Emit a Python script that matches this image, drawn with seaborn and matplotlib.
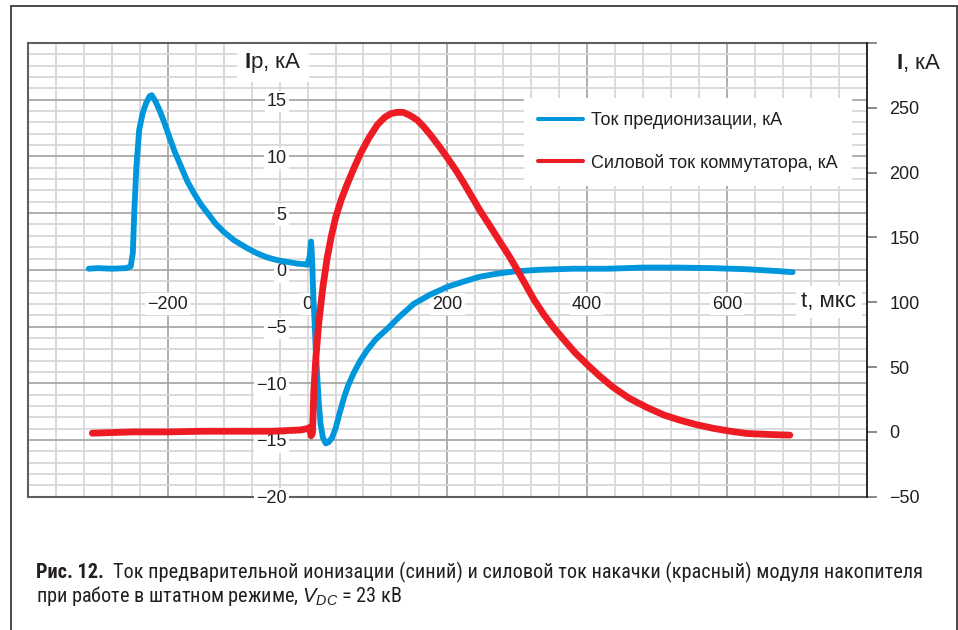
import matplotlib
matplotlib.use("Agg")
import matplotlib.pyplot as plt
import seaborn as sns
import pandas as pd
from matplotlib.ticker import MultipleLocator, FixedLocator
from matplotlib.patches import Rectangle
from matplotlib.lines import Line2D

# ---------------- data ----------------
blue_t = [-313, -300, -280, -260, -253, -250, -248, -245, -241, -236, -231, -226, -223,
          -218, -212, -205, -198, -190, -181, -172, -162, -153, -143, -132, -120, -105,
          -86, -72, -58, -43, -29, -15, -5, 0, 3, 5, 6.5, 8, 10, 12, 14, 16, 18.6, 22,
          26, 30, 35, 40, 46, 52, 58, 66, 75, 85, 98, 114, 132, 152, 175, 200, 225, 247,
          270, 294, 330, 380, 430, 480, 530, 580, 630, 670, 694]
blue_ip = [0.1, 0.15, 0.1, 0.15, 0.3, 1.5, 5.0, 9.0, 12.3, 13.8, 14.7, 15.3, 15.4,
           14.9, 14.1, 13.0, 11.75, 10.4, 9.1, 7.8, 6.7, 5.8, 5.0, 4.1, 3.35, 2.6,
           1.9, 1.45, 1.1, 0.85, 0.7, 0.55, 0.5, 0.45, 1.2, 2.5, 1.0, -2.0, -4.5, -7.5,
           -9.5, -11.7, -13.6, -14.8, -15.3, -15.2, -14.8, -14.0, -12.6, -11.3, -10.2,
           -9.1, -8.05, -7.1, -6.1, -5.2, -4.1, -3.0, -2.2, -1.5, -1.0, -0.6, -0.35,
           -0.15, 0.0, 0.1, 0.1, 0.2, 0.2, 0.15, 0.05, -0.1, -0.2]

red_t = [-308, -250, -200, -150, -100, -50, -10, 0, 3, 5, 7, 9, 12, 16, 22, 28, 34, 40,
         48, 57, 66, 76, 88, 100, 110, 119, 128, 137, 147, 157, 166, 176, 188, 200, 212,
         223, 235, 247, 262, 276, 288, 300, 312, 324, 338, 352, 366, 383, 400, 418, 437,
         460, 485, 510, 533, 557, 580, 605, 628, 660, 690]
red_i = [-1, 0, 0, 0.5, 0.5, 0.5, 1.5, 2.5, 3.5, -3, -1, 32, 58, 84, 112, 134, 151, 165,
         179, 191.5, 203, 215, 227, 237, 242.5, 245.5, 246.5, 246.5, 244, 240.5, 235.5, 229,
         220.5, 211.5, 202, 192.5, 181.5, 170.5, 158, 146, 136, 125, 113.5, 102, 90.5, 80.5,
         71.5, 61, 52, 43, 34.5, 26, 19, 13, 9, 5.5, 2.8, 0.5, -1.2, -2, -2.5]

x_ticks = [-200, 0, 200, 400, 600]
x_tick_labels = ["\u2212200", "0", "200", "400", "600"]
left_ticks = [-20, -15, -10, -5, 0, 5, 10, 15]
left_tick_labels = ["\u221220", "\u221215", "\u221210", "\u22125", "0", "5", "10", "15"]
right_ticks = [-50, 0, 50, 100, 150, 200, 250, 300]
right_tick_labels = ["\u221250", "0", "50", "100", "150", "200", "250", ""]

legend_labels = ["Ток предионизации, кА", "Силовой ток коммутатора, кА"]
left_title = r"$\mathbf{I}$p, кА"
right_title = r"$\mathbf{I}$, кА"
x_title = "t, мкс"
caption_bold = "Рис. 12."
caption_line1 = "Ток предварительной ионизации (синий) и силовой ток накачки (красный) модуля накопителя"
caption_line2 = r"при работе в штатном режиме, $V_{DC}$ = 23 кВ"

# ---------------- style ----------------
sns.set_theme(style="white")
plt.rcParams['font.family'] = ['Liberation Sans', 'DejaVu Sans']
plt.rcParams['mathtext.fontset'] = 'custom'
plt.rcParams['mathtext.rm'] = 'Liberation Sans'
plt.rcParams['mathtext.bf'] = 'Liberation Sans:bold'
plt.rcParams['mathtext.it'] = 'Liberation Sans:italic'

BLUE = '#0096db'
RED = '#ed1c24'
TXT = '#231f20'
FRAME = '#5f5f5f'
FS = 13

W, H = 958, 630
fig = plt.figure(figsize=(W / 100, H / 100), dpi=100)
fig.patch.set_facecolor('white')
L, R, T, B = 28, 866.7, 43, 496.7
rect = [L / W, 1 - B / H, (R - L) / W, (B - T) / H]

# grid layer (also carries the plot frame)
axg = fig.add_axes(rect)
axg.set_xlim(-400, 800)
axg.set_ylim(-20, 20)
axg.xaxis.set_major_locator(FixedLocator([-200, 200, 400, 600]))
axg.xaxis.set_minor_locator(MultipleLocator(40))
axg.yaxis.set_major_locator(MultipleLocator(5))
axg.yaxis.set_minor_locator(MultipleLocator(1))
axg.grid(which='major', color='#a8a8a8', lw=1.3)
axg.grid(which='minor', color='#d8d8d8', lw=1.3)
axg.tick_params(which='both', length=0, labelbottom=False, labelleft=False)
for side, s in axg.spines.items():
    s.set_visible(side != 'right')
    s.set_color(FRAME)
    s.set_linewidth(1.5)

# blue (left axis)
ax = fig.add_axes(rect)
ax.patch.set_visible(False)
sns.lineplot(x=blue_t, y=blue_ip, ax=ax, color=BLUE, lw=4.2, estimator=None,
             sort=False, solid_capstyle='round', solid_joinstyle='round')
ax.set_xlim(-400, 800)
ax.set_ylim(-20, 20)
ax.set_xlabel('')
ax.set_ylabel('')
for s in ax.spines.values():
    s.set_visible(False)
ax.spines['left'].set_position(('data', 0))
ax.spines['bottom'].set_position(('data', 0))
ax.set_xticks(x_ticks, x_tick_labels)
ax.set_yticks(left_ticks, left_tick_labels)
ax.tick_params(axis='both', length=0, labelsize=FS, labelcolor=TXT)
ax.tick_params(axis='y', pad=15)
ax.tick_params(axis='x', pad=18.5)
for lbl in ax.get_xticklabels() + ax.get_yticklabels():
    lbl.set_bbox(dict(facecolor='white', edgecolor='none', pad=1.5))

ax.text(0.2921, 0.956, left_title, transform=ax.transAxes, ha='center', va='center',
        fontsize=16, color=TXT, bbox=dict(facecolor='white', edgecolor='none', pad=5))
ax.text(0.955, 0.4298, x_title, transform=ax.transAxes, ha='center', va='center',
        fontsize=16, color=TXT, bbox=dict(facecolor='white', edgecolor='none', pad=4))

# red (right axis)
ax2 = ax.twinx()
sns.lineplot(x=red_t, y=red_i, ax=ax2, color=RED, lw=4.9, estimator=None,
             sort=False, solid_capstyle='round', solid_joinstyle='round')
ax2.set_xlim(-400, 800)
ax2.set_ylim(-50, 300)
ax2.set_ylabel('')
ax2.set_xlabel('')
ax2.set_yticks(right_ticks, right_tick_labels)
ax2.tick_params(axis='y', direction='out', length=7.4, width=1.3, color='#808080',
                labelsize=FS, labelcolor=TXT, pad=9, right=True, left=False)
for side in ['left', 'top', 'bottom']:
    ax2.spines[side].set_visible(False)
ax2.spines['right'].set_visible(True)
ax2.spines['right'].set_color('#1a1a1a')
ax2.spines['right'].set_linewidth(1.3)
ax2.text(1.0622, 0.956, right_title, transform=ax2.transAxes, ha='center', va='center',
         fontsize=16, color=TXT)

handles = [Line2D([], [], color=BLUE, lw=2.9), Line2D([], [], color=RED, lw=2.9)]
leg = ax2.legend(handles, legend_labels, loc='upper right', bbox_to_anchor=(0.983, 0.879),
                 frameon=True, fancybox=False, framealpha=1, edgecolor='none',
                 facecolor='white', fontsize=FS, handlelength=2.5, handletextpad=0.45,
                 labelspacing=1.35, borderpad=0.8, borderaxespad=0)
for t in leg.get_texts():
    t.set_color(TXT)

# outer frame
fig.add_artist(Rectangle((11 / W, -0.05), (957 - 11) / W, 1.05 - 6 / H,
                         transform=fig.transFigure, fill=False, edgecolor='#3a3a3a',
                         lw=1.3))

# caption
cap_fam = ['Liberation Sans Narrow', 'Roboto Condensed', 'Noto Sans Condensed',
           'DejaVu Sans Condensed', 'Open Sans Condensed', 'Roboto', 'DejaVu Sans']
x0 = 36 / W
y1 = 1 - 578 / H
y2 = 1 - 602 / H
size = 14.0
common = dict(family=cap_fam, fontstretch='condensed', color=TXT, va='baseline', ha='left')
tb = fig.text(x0, y1, caption_bold, fontsize=size, fontweight='bold', **common)
tr = fig.text(x0, y1, caption_line1, fontsize=size, **common)
t2 = fig.text(x0, y2, caption_line2, fontsize=size, **common)
target = 925.7 - 36
for _ in range(3):
    fig.canvas.draw()
    r = fig.canvas.get_renderer()
    bb = tb.get_window_extent(r)
    tr.set_x((bb.x1 + 9) / W)
    fig.canvas.draw()
    br = tr.get_window_extent(r)
    width = br.x1 - bb.x0
    size = min(size * target / width, 15.0)
    for t in (tb, tr, t2):
        t.set_fontsize(size)

fig.canvas.draw()
r = fig.canvas.get_renderer()
bb = tb.get_window_extent(r)
tr.set_x((bb.x1 + 9) / W)

fig.savefig('out.png', dpi=100, facecolor='white')
